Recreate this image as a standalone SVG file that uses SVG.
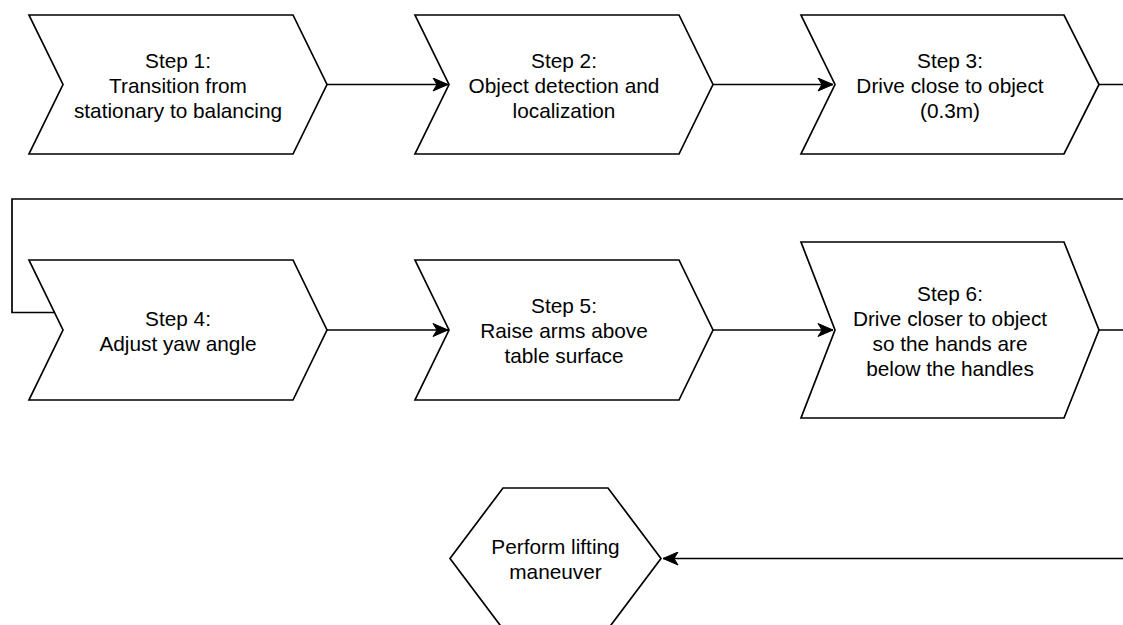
<svg xmlns="http://www.w3.org/2000/svg" width="1123" height="625" viewBox="0 0 1123 625">
<style>
.shape{fill:#fff;stroke:#000;stroke-width:1.7;stroke-linejoin:miter}
.edge{fill:none;stroke:#000;stroke-width:1.7}
text{font-family:"Liberation Sans",Arial,Helvetica,sans-serif;font-size:20.8px;fill:#000;text-anchor:middle}
</style>
<defs>
<marker id="arrow" viewBox="-16 -7 17 14" refX="0" refY="0" markerWidth="17" markerHeight="14" markerUnits="userSpaceOnUse" orient="auto">
<path d="M0,0 L-15,-6.5 L-11,0 L-15,6.5 Z" fill="#000" stroke="#000" stroke-width="1"/>
</marker>
</defs>
<g id="connectors">
<path class="edge" d="M327,84.5 L448,84.5" marker-end="url(#arrow)"/>
<path class="edge" d="M713,84.5 L833,84.5" marker-end="url(#arrow)"/>
<path class="edge" d="M1099,84.5 L1140,84.5 L1140,199 L12,199 L12,312.5 L55,312.5"/>
<path class="edge" d="M327,330 L448,330" marker-end="url(#arrow)"/>
<path class="edge" d="M713,330 L833,330" marker-end="url(#arrow)"/>
<path class="edge" d="M1099,330 L1140,330 L1140,558.5 L663,558.5" marker-end="url(#arrow)"/>
</g>
<g id="step1">
<path class="shape" d="M29,15 L293,15 L327,84.5 L293,154 L29,154 L63,84.5 Z"/>
<text x="178" y="67.5">Step 1:</text>
<text x="178" y="92.5">Transition from</text>
<text x="178" y="117.5">stationary to balancing</text>
</g>
<g id="step2">
<path class="shape" d="M415,15 L679,15 L713,84.5 L679,154 L415,154 L449,84.5 Z"/>
<text x="564" y="67.5">Step 2:</text>
<text x="564" y="92.5">Object detection and</text>
<text x="564" y="117.5">localization</text>
</g>
<g id="step3">
<path class="shape" d="M801,15 L1064,15 L1099,84.5 L1064,154 L801,154 L835,84.5 Z"/>
<text x="950" y="67.5">Step 3:</text>
<text x="950" y="92.5">Drive close to object</text>
<text x="950" y="117.5">(0.3m)</text>
</g>
<g id="step4">
<path class="shape" d="M29,260 L293,260 L327,330 L293,400 L29,400 L63,330 Z"/>
<text x="178" y="325.5">Step 4:</text>
<text x="178" y="350.5">Adjust yaw angle</text>
</g>
<g id="step5">
<path class="shape" d="M415,260 L679,260 L713,330 L679,400 L415,400 L449,330 Z"/>
<text x="564" y="313">Step 5:</text>
<text x="564" y="338">Raise arms above</text>
<text x="564" y="363">table surface</text>
</g>
<g id="step6">
<path class="shape" d="M801,242 L1064,242 L1099,330 L1064,418 L801,418 L835,330 Z"/>
<text x="950" y="300.5">Step 6:</text>
<text x="950" y="325.5">Drive closer to object</text>
<text x="950" y="350.5">so the hands are</text>
<text x="950" y="375.5">below the handles</text>
</g>
<g id="lift">
<path class="shape" d="M503,488 L608,488 L661,558.5 L608,629 L503,629 L450,558.5 Z"/>
<text x="555.5" y="553.5">Perform lifting</text>
<text x="555.5" y="578.5">maneuver</text>
</g>
</svg>
